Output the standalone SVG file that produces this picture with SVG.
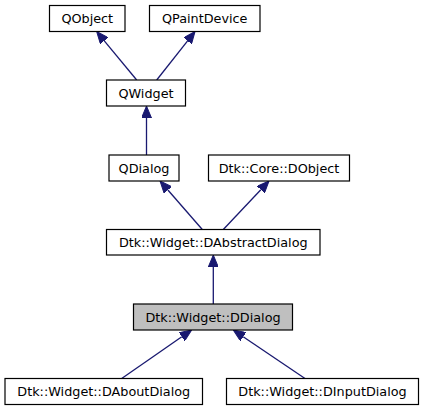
<svg xmlns="http://www.w3.org/2000/svg" width="424" height="411" viewBox="0 0 424 411">
<style>
.box{fill:#ffffff;stroke:#000000;stroke-width:1.2}
.cur{fill:#bfbfbf;stroke:#000000;stroke-width:1.2}
.lbl{font-family:"DejaVu Sans",sans-serif;font-size:12.8px;fill:#000000;text-anchor:middle}
.edge{fill:none;stroke:#191970;stroke-width:1.3;marker-end:url(#ah)}
</style>
<defs>
<marker id="ah" markerUnits="userSpaceOnUse" viewBox="0 0 12 10" refX="0" refY="5" markerWidth="12" markerHeight="10" orient="auto">
<path d="M0,0 L12,5 L0,10 z" fill="#191970" stroke="#191970" stroke-width="1"/>
</marker>
</defs>
<rect width="424" height="411" fill="#ffffff"/>
<g id="connectors">
<path class="edge" d="M136.7,80 L104.3,40.8"/>
<path class="edge" d="M156.7,80 L187.6,40.9"/>
<path class="edge" d="M146.5,155 L146.5,118"/>
<path class="edge" d="M202.3,229.5 L167.9,190"/>
<path class="edge" d="M223.3,229.5 L260.8,189.7"/>
<path class="edge" d="M213.3,304 L213.3,267"/>
<path class="edge" d="M121.7,378.5 L181.8,336.8"/>
<path class="edge" d="M305,378.5 L243.2,336.7"/>
</g>
<g id="QObject"><rect class="box" x="49.5" y="5.5" width="75.5" height="26"/><text class="lbl" x="87.25" y="23">QObject</text></g>
<g id="QPaintDevice"><rect class="box" x="149.5" y="5.5" width="110.5" height="26"/><text class="lbl" x="204.75" y="23">QPaintDevice</text></g>
<g id="QWidget"><rect class="box" x="106.5" y="80" width="79" height="26"/><text class="lbl" x="146" y="97.5">QWidget</text></g>
<g id="QDialog"><rect class="box" x="109" y="155" width="70" height="26"/><text class="lbl" x="144" y="172.5">QDialog</text></g>
<g id="DObject"><rect class="box" x="208.5" y="155" width="141" height="26"/><text class="lbl" x="279" y="172.5">Dtk::Core::DObject</text></g>
<g id="DAbstractDialog"><rect class="box" x="106.5" y="229.5" width="213.5" height="25.5"/><text class="lbl" x="213.25" y="246.75">Dtk::Widget::DAbstractDialog</text></g>
<g id="DDialog"><rect class="cur" x="133.5" y="304" width="159" height="26"/><text class="lbl" x="213" y="321.5">Dtk::Widget::DDialog</text></g>
<g id="DAboutDialog"><rect class="box" x="5" y="378.5" width="197.5" height="26"/><text class="lbl" x="103.75" y="396">Dtk::Widget::DAboutDialog</text></g>
<g id="DInputDialog"><rect class="box" x="226.5" y="378.5" width="192" height="26"/><text class="lbl" x="322.5" y="396">Dtk::Widget::DInputDialog</text></g>
</svg>
